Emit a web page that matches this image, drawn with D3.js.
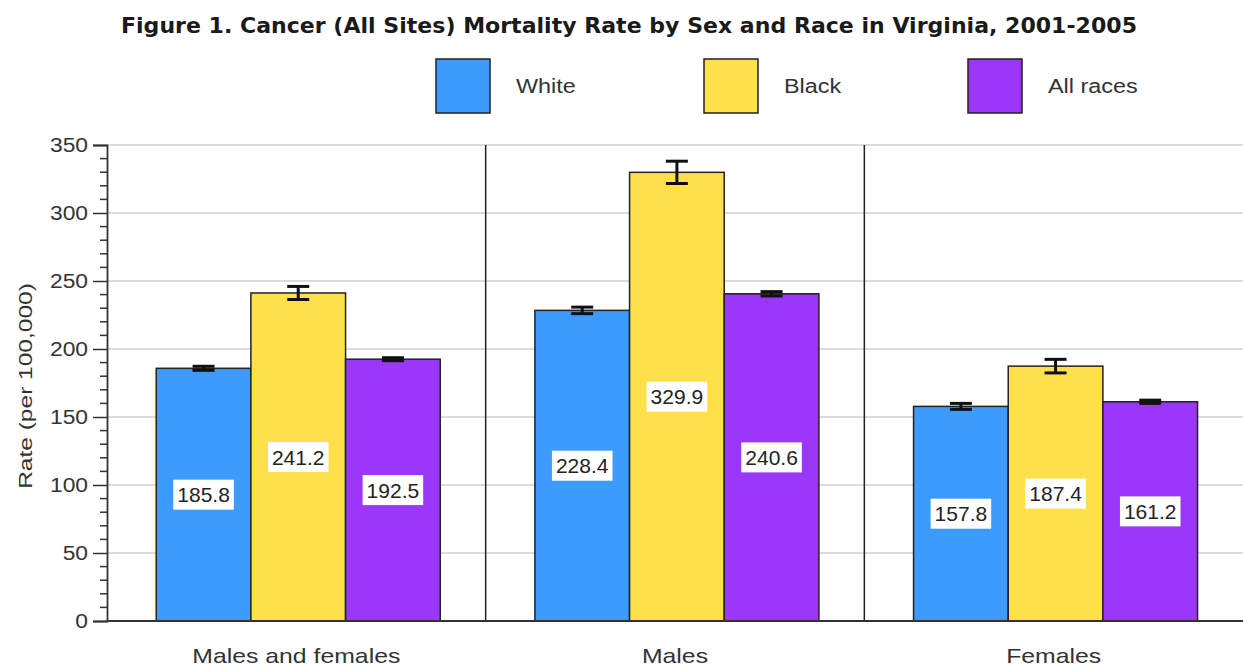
<!DOCTYPE html>
<html>
<head>
<meta charset="utf-8">
<script src="https://cdn.jsdelivr.net/npm/d3@7"></script>
<style>
  body { margin: 0; background: #fff; }
  svg { display: block; }
</style>
</head>
<body>
<svg id="chart" width="1243" height="667"></svg>
<script>
// chart data
var groups = ["Males and females", "Males", "Females"];
var races = ["White", "Black", "All races"];
var raceColors = ["#3d9bfd", "#fde04a", "#9a37fb"];
var white = [185.8, 228.4, 157.8];
var black = [241.2, 329.9, 187.4];
var allRaces = [192.5, 240.6, 161.2];
// half width of the confidence interval
var whiteErr = [1.5, 2.4, 2.2];
var blackErr = [4.8, 8.2, 5.0];
var allErr = [1.1, 1.6, 1.2];
var yTicks = [0, 50, 100, 150, 200, 250, 300, 350];

var values = [white, black, allRaces];
var errs = [whiteErr, blackErr, allErr];

(function() {
  var svg = d3.select("#chart");
  var plotL = 107, plotR = 1243, plotT = 145, plotB = 621;
  var sans = "'Liberation Sans', Arial, sans-serif";

  // the source picture has wide lettering, stretch text a bit
  function stretch(sel, k) {
    sel.each(function() {
      var w = this.getComputedTextLength();
      d3.select(this).attr("textLength", w * k).attr("lengthAdjust", "spacingAndGlyphs");
    });
  }

  var x = d3.scaleBand().domain(groups).range([plotL, plotR]).padding(0);
  var inner = d3.scaleBand().domain(races)
    .range([x.bandwidth() * 0.13, x.bandwidth() * 0.88]).padding(0);
  var y = d3.scaleLinear().domain([0, 350]).range([plotB, plotT]);

  // title
  svg.append("text")
    .attr("x", 121).attr("y", 33)
    .attr("textLength", 1016).attr("lengthAdjust", "spacingAndGlyphs")
    .style("font-family", "'DejaVu Sans', Verdana, sans-serif")
    .style("font-weight", "bold")
    .style("font-size", "22px")
    .attr("fill", "#1a1a1a")
    .text("Figure 1. Cancer (All Sites) Mortality Rate by Sex and Race in Virginia, 2001-2005");

  // legend
  var legendX = [436, 704, 968];
  var legend = svg.selectAll(".legend").data(races).enter().append("g")
    .attr("class", "legend")
    .attr("transform", function(d, i) { return "translate(" + legendX[i] + ",59)"; });
  legend.append("rect")
    .attr("width", 54).attr("height", 54)
    .attr("fill", function(d, i) { return raceColors[i]; })
    .attr("stroke", "#222").attr("stroke-width", 1.5);
  legend.append("text")
    .attr("x", 80).attr("y", 34)
    .style("font-family", sans)
    .style("font-size", "20px")
    .attr("fill", "#333")
    .text(function(d) { return d; })
    .call(stretch, 1.17);

  // gridlines
  svg.append("g").selectAll("line").data(yTicks.slice(1)).enter().append("line")
    .attr("x1", plotL).attr("x2", plotR)
    .attr("y1", function(d) { return y(d); }).attr("y2", function(d) { return y(d); })
    .attr("stroke", "#b8b8b8").attr("stroke-width", 1.2);

  // panel dividers
  svg.append("g").selectAll("line").data(groups.slice(1)).enter().append("line")
    .attr("x1", function(d) { return x(d); }).attr("x2", function(d) { return x(d); })
    .attr("y1", plotT).attr("y2", plotB)
    .attr("stroke", "#222").attr("stroke-width", 1.5);

  // y axis, major + minor ticks
  var minor = d3.range(0, 351, 10).filter(function(d) { return d % 50 !== 0; });
  svg.append("g").selectAll("line").data(minor).enter().append("line")
    .attr("x1", plotL - 7).attr("x2", plotL)
    .attr("y1", function(d) { return y(d); }).attr("y2", function(d) { return y(d); })
    .attr("stroke", "#333").attr("stroke-width", 1.5);

  var yAxis = svg.append("g")
    .attr("transform", "translate(" + plotL + ",0)")
    .call(d3.axisLeft(y).tickValues(yTicks).tickSize(14).tickPadding(5));
  yAxis.select(".domain").attr("stroke", "#333").attr("stroke-width", 1.8);
  yAxis.selectAll(".tick line").attr("stroke", "#333").attr("stroke-width", 1.5);
  yAxis.selectAll(".tick text")
    .style("font-family", sans)
    .style("font-size", "20px")
    .attr("fill", "#333")
    .call(stretch, 1.14);

  svg.append("text")
    .attr("transform", "translate(32," + 386 + ") rotate(-90)")
    .attr("text-anchor", "middle")
    .style("font-family", sans)
    .style("font-size", "19px")
    .attr("fill", "#333")
    .text("Rate (per 100,000)")
    .call(stretch, 1.29);

  // bars
  var bars = [];
  groups.forEach(function(g, gi) {
    races.forEach(function(r, ri) {
      bars.push({ group: g, race: r, ri: ri, value: values[ri][gi], err: errs[ri][gi] });
    });
  });

  function cx(d) { return x(d.group) + inner(d.race) + inner.bandwidth() / 2; }

  var barG = svg.append("g");
  barG.selectAll("rect").data(bars).enter().append("rect")
    .attr("x", function(d) { return x(d.group) + inner(d.race); })
    .attr("width", inner.bandwidth())
    .attr("y", function(d) { return y(d.value); })
    .attr("height", function(d) { return y(0) - y(d.value); })
    .attr("fill", function(d) { return raceColors[d.ri]; })
    .attr("stroke", "#222").attr("stroke-width", 1.5);

  // error bars
  var capW = 11;
  var errG = barG.selectAll(".err").data(bars).enter().append("g").attr("class", "err")
    .attr("stroke", "#111").attr("stroke-width", 3);
  errG.append("line")
    .attr("x1", cx).attr("x2", cx)
    .attr("y1", function(d) { return y(d.value + d.err); })
    .attr("y2", function(d) { return y(d.value - d.err); });
  errG.append("line")
    .attr("x1", function(d) { return cx(d) - capW; }).attr("x2", function(d) { return cx(d) + capW; })
    .attr("y1", function(d) { return y(d.value + d.err); })
    .attr("y2", function(d) { return y(d.value + d.err); });
  errG.append("line")
    .attr("x1", function(d) { return cx(d) - capW; }).attr("x2", function(d) { return cx(d) + capW; })
    .attr("y1", function(d) { return y(d.value - d.err); })
    .attr("y2", function(d) { return y(d.value - d.err); });

  // value labels in white boxes, at the middle of each bar
  var lab = barG.selectAll(".lab").data(bars).enter().append("g").attr("class", "lab")
    .attr("transform", function(d) { return "translate(" + cx(d) + "," + y(d.value / 2) + ")"; });
  var labBox = lab.append("rect").attr("fill", "#fff");
  var labText = lab.append("text")
    .attr("text-anchor", "middle").attr("dy", "0.36em")
    .style("font-family", sans)
    .style("font-size", "21px")
    .attr("fill", "#222")
    .text(function(d) { return d.value.toFixed(1); });
  labBox.each(function(d, i) {
    var w = labText.nodes()[i].getComputedTextLength() + 8;
    d3.select(this).attr("x", -w / 2).attr("y", -15).attr("width", w).attr("height", 30);
  });

  // bottom axis line
  svg.append("line")
    .attr("x1", plotL).attr("x2", plotR).attr("y1", plotB).attr("y2", plotB)
    .attr("stroke", "#333").attr("stroke-width", 1.8);

  // category labels
  svg.append("g").selectAll("text").data(groups).enter().append("text")
    .attr("x", function(d) { return x(d) + x.bandwidth() / 2; })
    .attr("y", 663)
    .attr("text-anchor", "middle")
    .style("font-family", sans)
    .style("font-size", "21px")
    .attr("fill", "#333")
    .text(function(d) { return d; })
    .call(stretch, 1.18);
})();
</script>
</body>
</html>
